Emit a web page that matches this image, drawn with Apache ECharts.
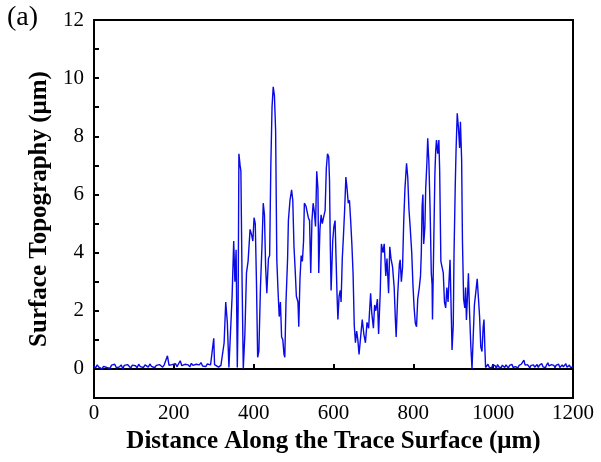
<!DOCTYPE html>
<html>
<head>
<meta charset="utf-8">
<script src="https://cdn.jsdelivr.net/npm/echarts@6/dist/echarts.min.js"></script>
<style>html,body{margin:0;padding:0;background:#fff;}#c{width:601px;height:462px;}</style>
</head>
<body>
<div id="c"></div>
<script>
// Distance along the trace (µm)
const xs = [0,4,8,12,16,20,24,28,32,36,40,44,48,52,56,60,64,68,72,76,80,84,88,92,96,100,104,108,112,116,120,124,128,132,136,140,144,148,152,156,160,164,168,172,176,180,184,188,192,196,200,204,208,212,216,220,224,228,232,236,240,244,248,252,256,260,264,268,272,276,280,284,288,292,296,300,302,306,312,318,
322,326,330,334,338,342,346,350,353,356,359,361,363,366,368,371,374,378,382,386,391,395,398,401,404,407,410,413,417,421,424,427,430,433,437,440,443,446,449,452,455,458,461,464,467,470,473,476,478,481,485,487,491,495,498,501,504,507,511,513,516,519,522,525,527,531,534,537,540,543,546,549,552,555,558,561,563,566,569,572,575,579,582,585,588,590,592,594,598,601,604,606,609,611,614,617,619,622,625,628,631,634,637,640,643,646,649,652,655,658,661,664,668,672,676,680,684,688,690,693,696,700,703,706,710,713,717,720,724,727,731,734,738,741,744,748,752,755,757,761,765,767,770,773,776,779,783,786,789,792,796,799,802,805,808,811,815,818,820,822,824,826,829,831,834,836,839,842,845,847,848,851,854,856,858,861,864,866,869,872,875,878,881,884,887,890,892,895,897,900,902,905,907,910,913,916,918,921,923,926,929,931,933,936,938,941,944,947,950,953,957,960,963,966,969,972,975,977,979,981,984,
987,990,993,996,999,1002,1005,1008,1011,1014,1017,1020,1023,1026,1029,1032,1035,1038,1041,1044,1047,1050,1053,1056,1059,1062,1065,1068,1071,1074,1077,1080,1083,1086,1089,1092,1095,1098,1101,1104,1107,1110,1113,1116,1119,1122,1125,1128,1131,1134,1137,1140,1143,1146,1149,1152,1155,1158,1161,1164,1167,1170,1173,1176,1179,1182,1185,1188,1191,1194,1197,1200];
// Surface topography (µm)
const ys = [0.10,0.03,0.14,0.06,0.12,0.00,0.09,0.15,0.05,0.11,0.02,0.13,0.08,0.16,0.04,0.10,0.07,0.14,0.01,0.12,0.06,0.15,0.09,0.03,0.13,0.07,0.11,0.04,0.16,0.08,0.12,0.05,0.14,0.10,0.06,0.17,0.09,0.13,0.04,0.12,0.08,0.15,0.11,0.06,0.14,0.09,0.45,0.12,0.07,0.15,0.10,0.18,0.08,0.13,0.28,0.11,0.06,0.16,0.10,0.14,0.07,0.19,0.12,0.09,0.16,0.11,0.14,0.22,0.10,0.15,0.08,0.17,0.12,0.14,0.10,1.05,0.15,0.1,0.06,0.12,
0.1,0.9,2.3,1.6,0.05,0.1,2.5,4.4,3.0,4.1,0.05,2.0,7.4,7.0,6.8,3.0,0.0,1.2,3.3,3.7,4.8,4.6,4.4,5.2,5.0,3.0,0.4,0.6,2.8,4.3,5.7,5.3,3.5,2.6,3.8,3.9,7.0,9.0,9.7,9.4,8.2,3.75,2.7,1.8,2.3,1.1,1.0,0.5,0.4,2.3,3.8,5.1,5.8,6.16,5.8,4.2,3.4,2.5,2.3,1.45,3.1,3.9,3.7,4.4,5.7,5.6,5.4,5.2,5.1,3.3,5.1,5.7,5.4,4.9,6.8,6.2,3.3,4.8,5.3,5.0,5.2,5.45,6.9,7.4,7.3,6.5,4.2,2.7,4.4,4.9,5.1,4.0,2.5,1.7,2.5,2.7,2.3,3.8,4.6,5.5,6.6,6.2,5.7,5.8,5.1,4.3,3.3,1.5,0.9,1.3,1.0,0.5,1.1,1.7,1.2,0.9,1.6,1.4,1.9,2.6,1.9,1.4,2.2,2.0,2.4,1.2,2.6,4.3,4.0,4.3,3.2,3.8,2.6,4.2,3.8,3.5,2.8,1.7,1.1,2.6,3.6,3.75,3.0,3.5,5.1,6.2,7.07,6.6,5.5,4.9,4.0,2.9,2.1,1.57,1.45,2.4,2.8,3.2,4.0,5.6,6.0,4.3,4.9,6.2,7.1,7.93,7.1,5.5,3.3,2.9,1.7,4.2,6.7,7.5,7.87,7.4,7.87,6.8,3.7,3.5,3.3,2.3,2.1,2.8,2.3,3.2,3.75,1.9,0.65,1.5,4.0,6.3,7.5,8.79,8.3,7.6,8.5,7.2,4.44,2.4,2.1,2.8,1.68,2.6,3.29,1.9,0.8,0.0,1.1,2.2,2.7,3.1,3.1,1.8,0.75,0.6,1.45,1.7,0.8,0.05,0.1,
0.16,0.06,0.12,0.03,0.14,0.08,0.11,0.02,0.15,0.07,0.12,0.04,0.13,0.09,0.05,0.14,0.10,0.03,0.12,0.07,0.16,0.05,0.11,0.08,0.14,0.04,0.12,0.09,0.17,0.22,0.30,0.13,0.07,0.15,0.10,0.04,0.12,0.08,0.14,0.06,0.11,0.15,0.05,0.13,0.09,0.18,0.07,0.12,0.04,0.14,0.21,0.10,0.06,0.15,0.09,0.12,0.04,0.13,0.08,0.16,0.05,0.11,0.14,0.07,0.12,0.18,0.06,0.10,0.13,0.05,0.09,0.07];
const xTitle = 'Distance Along the Trace Surface (μm)';
const yTitle = 'Surface Topography (μm)';
const panel = '(a)';

const data = xs.map((x, i) => [x, ys[i]]);
const chart = echarts.init(document.getElementById('c'), null, {renderer: 'canvas'});
const serif = '"Liberation Serif", "Times New Roman", serif';
chart.setOption({
  animation: false,
  backgroundColor: '#fff',
  grid: {left: 94, top: 20, right: 28, bottom: 64, show: true, borderColor: '#000', borderWidth: 2, containLabel: false},
  graphic: [{type: 'text', left: 7, top: 4, style: {text: panel, font: '28px ' + serif, fill: '#000'}}],
  xAxis: {
    type: 'value', min: 0, max: 1200, interval: 200,
    name: xTitle, nameLocation: 'middle', nameGap: 28,
    nameTextStyle: {fontFamily: serif, fontSize: 25, fontWeight: 'bold', color: '#000'},
    axisLine: {show: true, lineStyle: {color: '#000', width: 2}},
    axisTick: {show: true, inside: true, length: 5, lineStyle: {color: '#000', width: 2}},
    axisLabel: {fontFamily: serif, fontSize: 21, color: '#000', margin: 5, formatter: v => String(v)},
    splitLine: {show: false}
  },
  yAxis: {
    type: 'value', min: -1, max: 12, interval: 1,
    name: yTitle, nameLocation: 'middle', nameGap: 33, nameRotate: 90,
    nameTextStyle: {fontFamily: serif, fontSize: 25, fontWeight: 'bold', color: '#000'},
    axisLine: {show: true, lineStyle: {color: '#000', width: 2}},
    axisTick: {show: true, inside: true, length: 5, lineStyle: {color: '#000', width: 2}},
    axisLabel: {fontFamily: serif, fontSize: 21, color: '#000', margin: 10,
      formatter: v => (v >= 0 && v % 2 === 0) ? String(v) : ''},
    splitLine: {show: false}
  },
  series: [{
    type: 'line', data: data, showSymbol: false, symbol: 'none',
    lineStyle: {color: '#0a0ae6', width: 1.4}, z: 1
  }]
});
</script>
</body>
</html>
